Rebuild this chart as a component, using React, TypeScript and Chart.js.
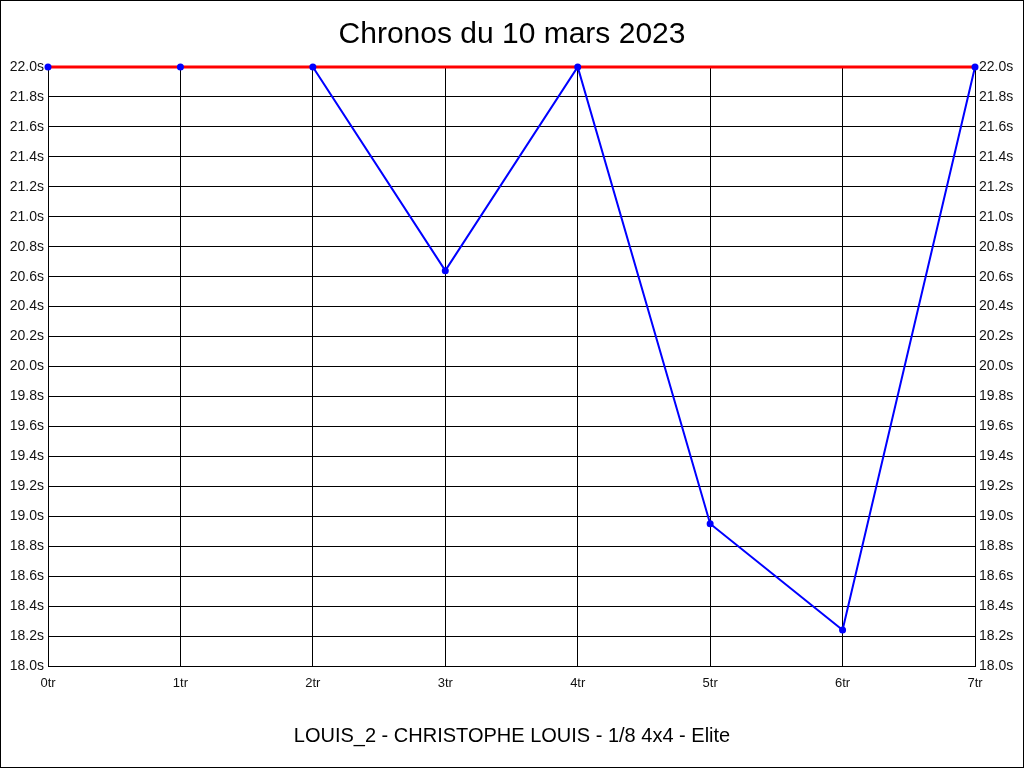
import { Chart, registerables } from "chart.js";
import { useEffect, useRef } from "react";

Chart.register(...registerables);

const laps = ["0tr", "1tr", "2tr", "3tr", "4tr", "5tr", "6tr", "7tr"];
const chronos = [22.0, 22.0, 22.0, 20.64, 22.0, 18.95, 18.24, 22.0];
const bestLine = [22.0, 22.0, 22.0, 22.0, 22.0, 22.0, 22.0, 22.0];
const yMin = 18.0;
const yMax = 22.0;
const yStep = 0.2;

const frame = {
  id: "frame",
  beforeDraw(chart: any) {
    const { ctx, width, height } = chart;
    ctx.save();
    ctx.fillStyle = "#fff";
    ctx.fillRect(0, 0, width, height);
    ctx.restore();
  },
  afterDraw(chart: any) {
    const { ctx, width, height } = chart;
    ctx.save();
    ctx.strokeStyle = "#000";
    ctx.lineWidth = 1;
    ctx.strokeRect(0.5, 0.5, width - 1, height - 1);
    ctx.restore();
  },
};

const FONT = "'Liberation Sans', Arial, sans-serif";

const ChronoChart = () => {
  const chartRef = useRef<HTMLCanvasElement>(null);
  const chartInstance = useRef<Chart | null>(null);

  useEffect(() => {
    document.body.style.margin = "0";
    const canvas = chartRef.current;
    if (!canvas) return;
    const ctx = canvas.getContext("2d");
    if (!ctx) return;

    if (chartInstance.current) {
      chartInstance.current.destroy();
    }

    const yTicks = {
      stepSize: yStep,
      padding: 4,
      color: "#111",
      font: { family: FONT, size: 14 },
      callback: (v: any) => Number(v).toFixed(1) + "s",
    };

    chartInstance.current = new Chart(ctx, {
      type: "line",
      data: {
        labels: laps,
        datasets: [
          {
            data: chronos,
            showLine: false,
            pointRadius: 3.5,
            pointBackgroundColor: "#0000ff",
            pointBorderColor: "#0000ff",
            pointBorderWidth: 0,
            order: 0,
            clip: false as any,
          },
          {
            data: bestLine,
            borderColor: "#ff0000",
            borderWidth: 3,
            pointRadius: 0,
            tension: 0,
            order: 1,
            clip: false as any,
          },
          {
            data: chronos,
            borderColor: "#0000ff",
            borderWidth: 2,
            pointRadius: 0,
            tension: 0,
            order: 2,
            clip: false as any,
          },
        ],
      },
      options: {
        responsive: false,
        animation: false,
        devicePixelRatio: 1,
        layout: { padding: 0 },
        plugins: {
          legend: { display: false },
          tooltip: { enabled: false },
          title: {
            display: true,
            text: "Chronos du 10 mars 2023",
            color: "#000",
            font: { family: FONT, size: 30, weight: "normal" },
            padding: { top: 17, bottom: 14 },
          },
          subtitle: {
            display: true,
            position: "bottom",
            text: "LOUIS_2 - CHRISTOPHE LOUIS - 1/8 4x4 - Elite",
            color: "#000",
            font: { family: FONT, size: 20, weight: "normal" },
            padding: { top: 0, bottom: 20 },
          },
        },
        scales: {
          x: {
            offset: false,
            grid: { color: "#000", lineWidth: 1, drawTicks: false },
            border: { color: "#000", width: 1 },
            ticks: {
              padding: 10,
              maxRotation: 0,
              autoSkip: false,
              color: "#111",
              font: { family: FONT, size: 13 },
            },
            afterFit: (s: any) => {
              s.height = 58;
            },
          },
          y: {
            position: "left",
            min: yMin,
            max: yMax,
            grid: { color: "#000", lineWidth: 1, drawTicks: false },
            border: { color: "#000", width: 1 },
            ticks: yTicks,
            afterFit: (s: any) => {
              s.width = 48;
            },
          },
          y2: {
            position: "right",
            min: yMin,
            max: yMax,
            grid: { drawOnChartArea: false, drawTicks: false },
            border: { color: "#000", width: 1 },
            ticks: yTicks,
            afterFit: (s: any) => {
              s.width = 49;
            },
          },
        },
      },
      plugins: [frame],
    });

    return () => {
      if (chartInstance.current) {
        chartInstance.current.destroy();
        chartInstance.current = null;
      }
    };
  }, []);

  return <canvas ref={chartRef} width={1024} height={768} style={{ display: "block" }} />;
};

export default function App() {
  return <ChronoChart />;
}
